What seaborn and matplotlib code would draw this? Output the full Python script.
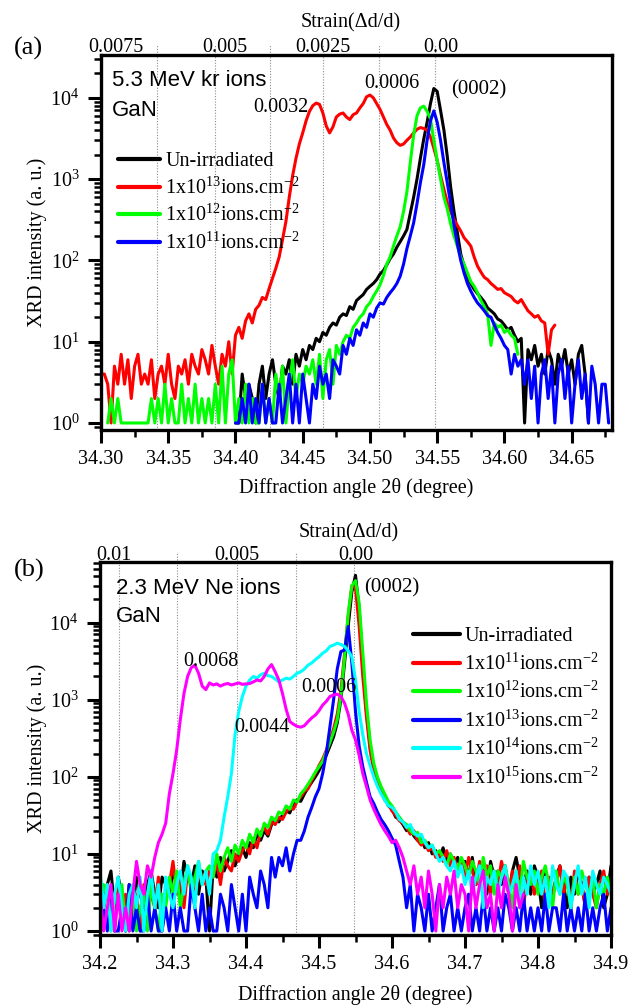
import numpy as np
import pandas as pd
import seaborn as sns
import matplotlib.pyplot as plt
from matplotlib.ticker import (LogLocator, LogFormatterMathtext, MultipleLocator,
                               FormatStrFormatter, NullFormatter)

sns.set_theme(style="ticks")
plt.rcParams["font.family"] = ["Liberation Serif", "DejaVu Serif"]
plt.rcParams["mathtext.fontset"] = "custom"
plt.rcParams["mathtext.rm"] = "Liberation Serif"
plt.rcParams["mathtext.it"] = "Liberation Serif:italic"
plt.rcParams["mathtext.bf"] = "Liberation Serif:bold"
for key in ["axes.edgecolor", "xtick.color", "ytick.color", "text.color", "axes.labelcolor"]:
    plt.rcParams[key] = "black"

FS = 14.5
SANS = ["Liberation Sans", "DejaVu Sans"]

# ---------------- (a) 5.3 MeV Kr ions, scan step 0.0025 deg ----------------
step_a = 0.0025

kr_unirr_x0 = 34.400
kr_unirr = [1, 1, 4, 2, 3, 2, 1, 3, 5, 2,
            4, 6, 3, 2, 5, 4, 6, 3, 7, 5,
            8, 6, 9, 8, 11, 10, 13, 12, 15, 17,
            16, 20, 22, 21, 27, 25, 32, 35, 38, 44,
            48, 52, 58, 68, 75, 88, 105, 120, 145, 170,
            200, 240, 380, 600, 1000, 1800, 3100, 5000, 8500, 13000,
            12000, 7000, 4000, 1900, 800, 400, 220, 120, 85, 62,
            52, 44, 39, 35, 31, 26, 24, 22, 19, 18,
            16, 14, 15, 12, 10, 11, 1, 8, 6, 9,
            5, 7, 4, 8, 6, 3, 7, 5, 8, 4,
            6, 3, 7, 9, 4, 1]

kr_1e13_x0 = 34.300
kr_1e13 = [4, 4, 3, 1, 5, 3, 7, 3, 6, 2,
           5, 7, 3, 4, 3, 6, 2, 4, 5, 3,
           7, 3, 2, 5, 4, 6, 3, 7, 5, 4,
           8, 6, 4, 9, 5, 3, 7, 5, 10, 4,
           12, 15, 11, 18, 22, 17, 25, 28, 35, 33,
           45, 60, 80, 110, 180, 300, 600, 1100, 1800, 2700,
           3700, 5200, 6800, 8000, 8600, 8300, 6500, 4500, 3700, 4400,
           5800, 6300, 6500, 5800, 5400, 6200, 6500, 7500, 8500, 10300,
           10800, 10000, 8500, 7200, 5800, 4700, 4000, 3200, 2800, 2600,
           2700, 3000, 3300, 3700, 4100, 4300, 4200, 4000, 3300, 2400,
           1700, 1100, 750, 520, 400, 320, 270, 230, 190, 170,
           150, 110, 85, 72, 62, 58, 52, 48, 44, 45,
           40, 38, 36, 32, 30, 33, 28, 24, 22, 20,
           21, 18, 17, 7, 14, 16]

kr_1e12_x0 = 34.305
kr_1e12 = [1, 2, 1, 2, 1, 1, 1, 1, 1, 1,
           1, 1, 1, 2, 1, 2, 1, 3, 1, 2,
           1, 1, 3, 1, 2, 1, 3, 1, 2, 1,
           2, 1, 3, 1, 5, 1, 4, 6, 1, 2,
           1, 3, 1, 2, 1, 1, 3, 1, 2, 1,
           4, 2, 5, 1, 3, 6, 2, 4, 3, 5,
           4, 6, 3, 7, 2, 6, 8, 3, 9, 7,
           10, 12, 11, 15, 17, 20, 22, 27, 30, 36,
           42, 50, 65, 90, 110, 150, 200, 260, 400, 700,
           1600, 3500, 6000, 7500, 7900, 6800, 5500, 3000, 1700, 1000,
           600, 430, 280, 200, 150, 110, 90, 70, 55, 48,
           40, 32, 27, 22, 9, 17, 15, 16, 13, 14,
           12, 11, 7]

kr_1e11_x0 = 34.400
kr_1e11 = [1, 1, 2, 1, 3, 1, 2, 1, 3, 1,
           2, 1, 1, 3, 1, 2, 4, 1, 3, 1,
           4, 2, 1, 3, 2, 5, 3, 4, 2, 6,
           5, 4, 9, 7, 11, 9, 14, 12, 17, 15,
           22, 20, 26, 30, 29, 35, 40, 45, 52, 64,
           90, 140, 200, 290, 500, 900, 1500, 3000, 5200, 6900,
           5000, 3000, 1600, 900, 500, 270, 160, 100, 70, 52,
           42, 35, 30, 27, 24, 21, 20, 16, 13, 11,
           9, 8, 4, 7, 5, 6, 3, 6, 2, 5,
           1, 4, 6, 2, 5, 1, 4, 6, 2, 5,
           1, 3, 6, 2, 4, 1, 5, 3, 1, 3,
           3, 1]

kr_labels = ["Un-irradiated", r"1x10$^{13}$ions.cm$^{-2}$",
             r"1x10$^{12}$ions.cm$^{-2}$", r"1x10$^{11}$ions.cm$^{-2}$"]
kr_colors = ["#000000", "#ff0000", "#00ff00", "#0000ff"]
kr_series = [(kr_unirr_x0, kr_unirr), (kr_1e13_x0, kr_1e13),
             (kr_1e12_x0, kr_1e12), (kr_1e11_x0, kr_1e11)]

kr_strain_pos = [34.311, 34.392, 34.465, 34.553]
kr_strain_lab = ["0.0075", "0.005", "0.0025", "0.00"]
kr_guides = [34.342, 34.385, 34.4255, 34.465, 34.507, 34.5485]

# ---------------- (b) 2.3 MeV Ne ions, scan step 0.005 deg ----------------
step_b = 0.005
ne_x0 = 34.200

ne_unirr = [3, 2, 4, 6, 2, 5, 3, 1, 4, 2,
            5, 3, 2, 4, 6, 3, 2, 5, 4, 3,
            6, 4, 3, 8, 5, 4, 7, 3, 6, 5,
            1, 7, 5, 9, 6, 8, 11, 7, 10, 12,
            9, 14, 12, 18, 15, 20, 17, 24, 28, 26,
            32, 36, 34, 45, 50, 48, 60, 72, 85, 100,
            120, 150, 190, 250, 330, 500, 1000, 3000, 9000, 25000,
            41000, 15000, 3000, 700, 250, 130, 90, 70, 55, 42,
            38, 30, 28, 24, 20, 22, 17, 15, 16, 12,
            14, 10, 11, 9, 12, 8, 10, 7, 9, 6,
            8, 5, 9, 4, 7, 6, 3, 8, 5, 6,
            4, 7, 3, 6, 9, 5, 4, 6, 3, 7,
            5, 2, 6, 4, 3, 5, 7, 4, 2, 5,
            3, 6, 4, 2, 5, 3, 4, 6, 2, 3,
            7]

ne_1e11 = [4, 2, 4, 3, 1, 4, 2, 3, 1, 2,
           3, 1, 4, 2, 3, 2, 5, 1, 3, 4,
           8, 3, 5, 2, 6, 4, 3, 7, 5, 4,
           6, 5, 8, 4, 9, 7, 6, 10, 8, 11,
           13, 10, 16, 12, 19, 22, 18, 26, 24, 30,
           28, 35, 40, 38, 48, 55, 65, 70, 90, 110,
           140, 170, 220, 300, 420, 650, 1300, 4000, 12000, 30000,
           28000, 9000, 2000, 600, 220, 120, 85, 65, 50, 45,
           36, 32, 27, 25, 22, 18, 20, 15, 13, 14,
           11, 12, 9, 10, 8, 11, 7, 9, 6, 8,
           5, 9, 6, 4, 8, 5, 7, 3, 6, 4,
           8, 5, 3, 6, 4, 7, 2, 5, 6, 3,
           4, 6, 2, 5, 3, 4, 7, 3, 5, 2,
           6, 3, 4, 2, 5, 3, 2, 4, 6, 3,
           4]

ne_1e12 = [2, 4, 3, 1, 3, 2, 4, 1, 2, 3,
           1, 2, 3, 1, 4, 2, 1, 3, 2, 5,
           3, 6, 2, 4, 7, 3, 5, 8, 4, 6,
           7, 5, 10, 6, 9, 12, 8, 13, 10, 15,
           12, 18, 14, 21, 17, 25, 22, 30, 27, 35,
           33, 42, 38, 50, 47, 60, 68, 80, 95, 115,
           135, 160, 210, 280, 380, 550, 1100, 3500, 13000, 30000,
           35000, 18000, 4000, 900, 300, 150, 100, 75, 60, 48,
           42, 35, 30, 26, 24, 20, 18, 19, 14, 15,
           12, 13, 10, 11, 9, 7, 10, 8, 6, 9,
           7, 5, 8, 6, 4, 9, 5, 7, 3, 6,
           5, 7, 4, 2, 6, 3, 8, 5, 4, 6,
           3, 5, 7, 4, 2, 6, 3, 5, 4, 2,
           5, 3, 6, 4, 3, 5, 2, 4, 3, 5,
           3]

ne_1e13 = [1, 2, 1, 3, 1, 1, 2, 1, 4, 1,
           2, 1, 1, 3, 1, 2, 1, 1, 2, 1,
           3, 1, 2, 1, 1, 4, 2, 1, 3, 1,
           2, 1, 1, 3, 2, 1, 4, 2, 1, 3,
           1, 5, 3, 2, 6, 4, 2, 9, 5, 9,
           7, 12, 6, 10, 15, 15, 20, 30, 40, 55,
           70, 110, 200, 450, 1000, 2500, 4200, 4400, 8900, 3000,
           700, 250, 135, 85, 55, 45, 35, 28, 24, 20,
           16, 13, 8, 5, 2, 4, 1, 3, 2, 1,
           3, 1, 2, 4, 1, 2, 3, 1, 2, 1,
           2, 3, 1, 2, 1, 3, 1, 2, 1, 2,
           1, 3, 2, 1, 2, 1, 3, 1, 2, 1,
           2, 1, 3, 1, 2, 2, 1, 3, 1, 2,
           1, 2, 1, 3, 1, 2, 1, 2, 3, 1,
           2]

ne_1e14 = [6, 2, 4, 1, 3, 5, 2, 1, 3, 4,
           2, 5, 1, 3, 6, 2, 4, 1, 5, 3,
           2, 4, 6, 3, 7, 5, 2, 8, 4, 6,
           3, 10, 11, 15, 30, 55, 110, 350, 700, 1100,
           1500, 1800, 2000, 1900, 2100, 2200, 2050, 2000, 1850, 1700,
           1800, 1900, 1850, 2000, 2200, 2300, 2500, 2800, 3000, 3300,
           3600, 4000, 4300, 4900, 5100, 5400, 5200, 4900, 4300, 3600,
           1800, 700, 350, 200, 140, 100, 75, 60, 50, 42,
           40, 35, 28, 26, 22, 24, 19, 17, 18, 14,
           12, 13, 10, 8, 9, 7, 6, 8, 5, 7,
           4, 6, 3, 5, 7, 2, 5, 4, 6, 3,
           5, 7, 3, 4, 6, 2, 5, 3, 7, 4,
           6, 3, 5, 2, 7, 4, 3, 6, 5, 2,
           4, 7, 3, 5, 2, 6, 4, 3, 5, 4,
           3]

ne_1e15 = [3, 1, 2, 4, 1, 3, 1, 2, 1, 3,
           8, 4, 3, 7, 5, 9, 14, 18, 25, 60,
           110, 220, 550, 1200, 2000, 2600, 2800, 2200, 1500, 1350,
           1650, 1550, 1600, 1500, 1580, 1620, 1550, 1600, 1650, 1580,
           1600, 1620, 1700, 1800, 1750, 2000, 2500, 2850, 2300, 1800,
           1200, 750, 520, 480, 450, 440, 460, 520, 580, 630,
           720, 850, 950, 1100, 1150, 1180, 1100, 900, 650, 400,
           300, 190, 110, 75, 50, 38, 30, 24, 20, 17,
           14, 15, 12, 9, 6, 4, 7, 3, 5, 2,
           6, 3, 1, 4, 2, 5, 3, 6, 2, 4,
           3, 1, 5, 2, 4, 6, 2, 3, 1, 4,
           2, 5, 3, 1, 4, 2, 3]

ne_labels = ["Un-irradiated", r"1x10$^{11}$ions.cm$^{-2}$", r"1x10$^{12}$ions.cm$^{-2}$",
             r"1x10$^{13}$ions.cm$^{-2}$", r"1x10$^{14}$ions.cm$^{-2}$", r"1x10$^{15}$ions.cm$^{-2}$"]
ne_colors = ["#000000", "#ff0000", "#00ff00", "#0000ff", "#00ffff", "#ff00ff"]
ne_series = [(ne_x0, ne_unirr), (ne_x0, ne_1e11), (ne_x0, ne_1e12),
             (ne_x0, ne_1e13), (ne_x0, ne_1e14), (ne_x0, ne_1e15)]

ne_strain_pos = [34.219, 34.388, 34.55]
ne_strain_lab = ["0.01", "0.005", "0.00"]
ne_guides = [34.226, 34.306, 34.387, 34.469, 34.548]


def long_frame(series, step, labels):
    parts = []
    for (x0, counts), lab in zip(series, labels):
        x = x0 + step * np.arange(len(counts))
        parts.append(pd.DataFrame({"angle": x, "counts": counts, "sample": lab}))
    return pd.concat(parts, ignore_index=True)


def style_axes(ax, xlim, ylim, xmaj, xmin, xfmt):
    ax.set_yscale("log")
    ax.set_xlim(*xlim)
    ax.set_ylim(*ylim)
    ax.xaxis.set_major_locator(MultipleLocator(xmaj))
    ax.xaxis.set_minor_locator(MultipleLocator(xmin))
    ax.xaxis.set_major_formatter(FormatStrFormatter(xfmt))
    ax.yaxis.set_major_locator(LogLocator(base=10, numticks=12))
    ax.yaxis.set_minor_locator(LogLocator(base=10, subs=np.arange(2, 10), numticks=12))
    ax.yaxis.set_major_formatter(LogFormatterMathtext())
    ax.yaxis.set_minor_formatter(NullFormatter())
    ax.tick_params(which="major", direction="out", length=9.5, width=2.2, labelsize=FS)
    ax.tick_params(axis="x", which="major", pad=5)
    ax.tick_params(axis="y", which="major", pad=6)
    ax.tick_params(which="minor", direction="out", length=5, width=1.8)
    ax.tick_params(which="both", top=False, right=False)
    for sp in ax.spines.values():
        sp.set_visible(True)
        sp.set_linewidth(2.4)
        sp.set_color("black")
    ax.set_xlabel("Diffraction angle 2θ (degree)", fontsize=FS)
    ax.set_ylabel("XRD intensity (a. u.)", fontsize=FS)


def strain_axis(ax, pos, labs, guides, lift):
    for g in guides:
        ax.axvline(g, ymin=0, ymax=1.027, color="0.55", ls=(0, (1, 1.5)), lw=0.8,
                   clip_on=False, zorder=0)
    tr = ax.get_xaxis_transform()
    for p, t in zip(pos, labs):
        ax.text(p, 1 + lift, t, transform=tr, ha="center", va="baseline", fontsize=FS)


fig = plt.figure(figsize=(6.4, 10.07), dpi=100)
ax_a = fig.add_axes([101 / 640, 1 - 430 / 1007, 511 / 640, 375 / 1007])
ax_b = fig.add_axes([100 / 640, 1 - 935 / 1007, 511 / 640, 373 / 1007])

# ---- panel (a)
df_a = long_frame(kr_series, step_a, kr_labels)
sns.lineplot(data=df_a, x="angle", y="counts", hue="sample", hue_order=kr_labels,
             palette=dict(zip(kr_labels, kr_colors)), estimator=None, sort=False,
             lw=2.2, ax=ax_a)
style_axes(ax_a, (34.30, 34.68), (0.82, 3.36e4), 0.05, 0.025, "%.2f")
ax_a.yaxis.set_label_coords(-0.106, 0.5)
ax_a.xaxis.set_label_coords(0.5, -0.128)
strain_axis(ax_a, kr_strain_pos, kr_strain_lab, kr_guides, 0.008)

h, l = ax_a.get_legend_handles_labels()
leg = ax_a.legend(h, l, loc="upper left", bbox_to_anchor=(0.033, 0.741), frameon=False,
                  fontsize=FS, handlelength=2.1, handletextpad=0.25, labelspacing=0.31,
                  borderpad=0, borderaxespad=0)
for ln in leg.get_lines():
    ln.set_linewidth(3)

ax_a.text(0.021, 0.931, "5.3 MeV kr ions", transform=ax_a.transAxes, family=SANS,
          fontsize=16, va="center", ha="left")
ax_a.text(0.021, 0.853, "GaN", transform=ax_a.transAxes, family=SANS,
          fontsize=16, va="center", ha="left")
ax_a.text(34.434, 7500, "0.0032", fontsize=FS, ha="center", va="center")
ax_a.text(34.516, 15200, "0.0006", fontsize=FS, ha="center", va="center")
ax_a.text(34.581, 12500, "(0002)", fontsize=15, ha="center", va="center")

# ---- panel (b)
df_b = long_frame(ne_series, step_b, ne_labels)
sns.lineplot(data=df_b, x="angle", y="counts", hue="sample", hue_order=ne_labels,
             palette=dict(zip(ne_labels, ne_colors)), estimator=None, sort=False,
             lw=2.2, ax=ax_b)
style_axes(ax_b, (34.2, 34.9), (0.887, 6.1e4), 0.1, 0.05, "%.1f")
ax_b.yaxis.set_label_coords(-0.104, 0.5)
ax_b.xaxis.set_label_coords(0.5, -0.134)
strain_axis(ax_b, ne_strain_pos, ne_strain_lab, ne_guides, 0.006)

h, l = ax_b.get_legend_handles_labels()
leg = ax_b.legend(h, l, loc="upper left", bbox_to_anchor=(0.6125, 0.825), frameon=False,
                  fontsize=FS, handlelength=2.35, handletextpad=0.2, labelspacing=0.36,
                  borderpad=0, borderaxespad=0)
for ln in leg.get_lines():
    ln.set_linewidth(3)

ax_b.text(0.031, 0.930, "2.3 MeV Ne ions", transform=ax_b.transAxes, family=SANS,
          fontsize=16, va="center", ha="left")
ax_b.text(0.031, 0.853, "GaN", transform=ax_b.transAxes, family=SANS,
          fontsize=16, va="center", ha="left")
ax_b.text(34.352, 3080, "0.0068", fontsize=FS, ha="center", va="center")
ax_b.text(34.422, 430, "0.0044", fontsize=FS, ha="center", va="center")
ax_b.text(34.514, 1420, "0.0006", fontsize=FS, ha="center", va="center")
ax_b.text(34.600, 28000, "(0002)", fontsize=15, ha="center", va="center")

# panel letters and strain titles
fig.text(28 / 640, 1 - 48 / 1007, "(a)", fontsize=19, ha="center", va="center")
fig.text(29 / 640, 1 - 570 / 1007, "(b)", fontsize=19, ha="center", va="center")
fig.text(351 / 640, 1 - 23 / 1007, "Strain(Δd/d)", fontsize=FS, ha="center", va="center")
fig.text(349 / 640, 1 - 533 / 1007, "Strain(Δd/d)", fontsize=FS, ha="center", va="center")

fig.savefig("out.png", dpi=100)
